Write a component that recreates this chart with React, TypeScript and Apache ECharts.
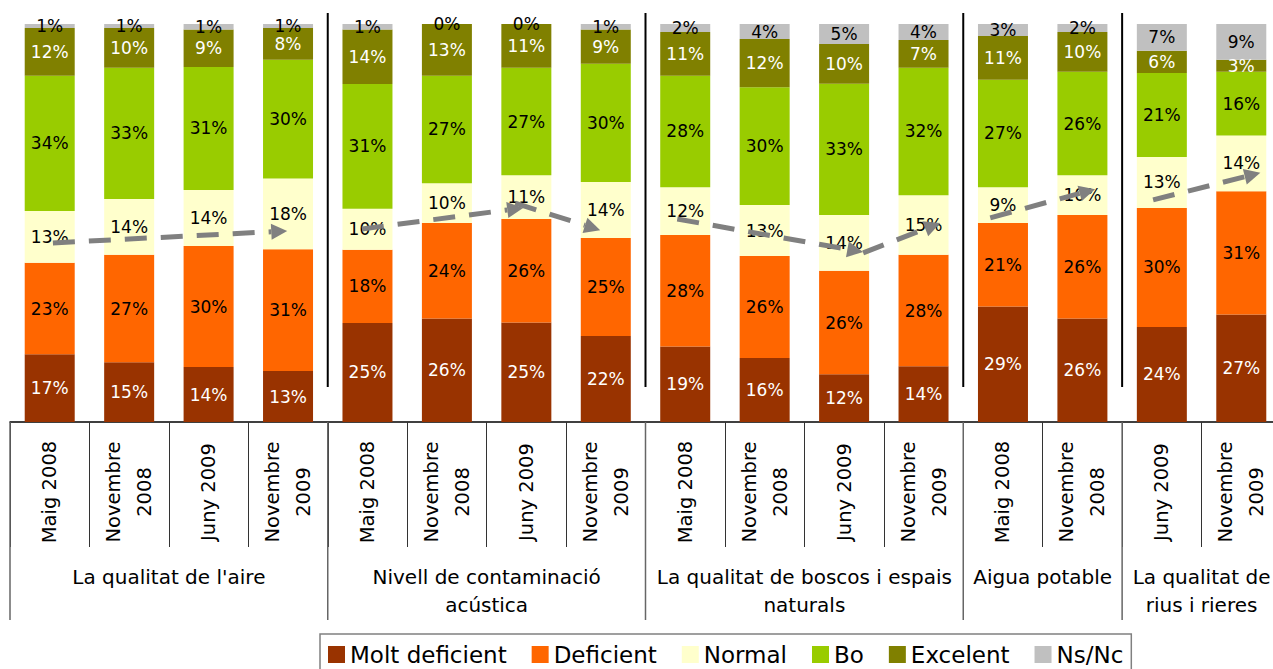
import React, { useEffect, useRef } from "react";
import * as echarts from "echarts";

const FONT = '"DejaVu Sans", sans-serif';

const categories = [
  "Maig 2008", "Novembre\n2008", "Juny 2009", "Novembre\n2009",
  "Maig 2008", "Novembre\n2008", "Juny 2009", "Novembre\n2009",
  "Maig 2008", "Novembre\n2008", "Juny 2009", "Novembre\n2009",
  "Maig 2008", "Novembre\n2008",
  "Juny 2009", "Novembre\n2009",
];

const groupLabels = [
  "La qualitat de l'aire",
  "Nivell de contaminació\nacústica",
  "La qualitat de boscos i espais\nnaturals",
  "Aigua potable",
  "La qualitat de\nrius i rieres",
];
// [first category index, last category index, 0]
const groupRanges = [
  [0, 3, 0],
  [4, 7, 0],
  [8, 11, 0],
  [12, 13, 0],
  [14, 15, 0],
];

const moltDeficient = [17, 15, 13.8, 12.8, 24.9, 26, 25, 21.6, 19, 16.1, 12, 14, 29, 26, 23.9, 27];
const deficient = [23, 27, 30.4, 30.6, 18.4, 24, 26, 24.6, 28, 25.6, 26, 28, 21, 26, 29.9, 31];
const normal = [13, 14, 14.1, 17.8, 10.3, 10, 11, 14.1, 12, 12.8, 14, 15, 9, 10, 12.8, 14];
const bo = [34, 33, 30.9, 29.8, 31.3, 27, 27, 29.7, 28, 29.6, 33, 32, 27, 26, 21.1, 16];
const excelent = [12, 10, 9.4, 8.0, 13.7, 13, 11, 8.6, 11, 12.1, 10, 7, 11, 10, 5.6, 3];
const nsnc = [1, 1, 1.4, 1.0, 1.4, 0, 0, 1.4, 2, 3.8, 5, 4, 3, 2, 6.7, 9];

// trend arrows: [fromCategory, fromPercent, toCategory, toPercent]
const trendArrows = [
  [0.04, 45.0, 2.99, 48.0],
  [3.93, 48.5, 5.96, 53.8],
  [5.86, 55.0, 6.93, 48.2],
  [7.9, 51.0, 10.24, 42.7],
  [10.24, 42.5, 11.21, 50.0],
  [11.84, 51.3, 13.16, 58.5],
  [13.89, 55.8, 15.24, 62.6],
];

const seriesDefs = [
  { name: "Molt deficient", data: moltDeficient, color: "#993300", labelColor: "#ffffff" },
  { name: "Deficient", data: deficient, color: "#FF6600", labelColor: "#000000" },
  { name: "Normal", data: normal, color: "#FFFFCC", labelColor: "#000000" },
  { name: "Bo", data: bo, color: "#99CC00", labelColor: "#000000" },
  { name: "Excelent", data: excelent, color: "#808000", labelColor: "#ffffff" },
  { name: "Ns/Nc", data: nsnc, color: "#C0C0C0", labelColor: "#000000" },
];

export default function App() {
  const ref = useRef<HTMLDivElement>(null);

  useEffect(() => {
    if (!ref.current) return;
    const chart = echarts.init(ref.current, null, { renderer: "svg" });

    const barSeries = seriesDefs.map((s) => ({
      name: s.name,
      type: "bar",
      stack: "total",
      barWidth: 50,
      xAxisIndex: 0,
      yAxisIndex: 0,
      data: s.data,
      itemStyle: { color: s.color },
      emphasis: { disabled: true },
      label: {
        show: true,
        position: "inside",
        formatter: (p: any) => Math.round(p.value) + "%",
        color: s.labelColor,
        fontSize: 17,
        fontFamily: FONT,
      },
      z: 2,
    }));

    const groupSeries = {
      type: "custom",
      name: "groups",
      xAxisIndex: 0,
      yAxisIndex: 0,
      clip: false,
      silent: true,
      z: 4,
      encode: { x: [0, 1], y: 2 },
      data: groupRanges,
      renderItem: (params: any, api: any) => {
        const i = params.dataIndex;
        const start = api.value(0);
        const end = api.value(1);
        const band = api.size([1, 0])[0];
        const p0 = api.coord([start, 0]);
        const pTop = api.coord([start, 100]);
        const xl = p0[0] - band / 2;
        const xr = api.coord([end, 0])[0] + band / 2;
        const yBase = p0[1];
        const children: any[] = [];
        if (start > 0) {
          children.push({
            type: "line",
            shape: { x1: xl, y1: pTop[1] - 11, x2: xl, y2: yBase - 35 },
            style: { stroke: "#000", lineWidth: 2 },
          });
        }
        children.push({
          type: "line",
          shape: { x1: xl, y1: yBase, x2: xl, y2: yBase + 198 },
          style: { stroke: "#666", lineWidth: 1.5 },
        });
        if (i === groupRanges.length - 1) {
          children.push({
            type: "line",
            shape: { x1: xr, y1: yBase, x2: xr, y2: yBase + 198 },
            style: { stroke: "#666", lineWidth: 1.5 },
          });
        }
        children.push({
          type: "text",
          x: (xl + xr) / 2,
          y: yBase + 141,
          style: {
            text: groupLabels[i],
            align: "center",
            verticalAlign: "top",
            fontSize: 20,
            lineHeight: 28,
            fontFamily: FONT,
            fill: "#000",
          },
        });
        return { type: "group", children };
      },
    };

    const arrowSeries = {
      type: "custom",
      name: "trend",
      xAxisIndex: 1,
      yAxisIndex: 0,
      clip: false,
      silent: true,
      z: 6,
      encode: { x: [0, 2], y: [1, 3] },
      data: trendArrows,
      renderItem: (params: any, api: any) => {
        const a = api.coord([api.value(0), api.value(1)]);
        const b = api.coord([api.value(2), api.value(3)]);
        const dx = b[0] - a[0];
        const dy = b[1] - a[1];
        const len = Math.hypot(dx, dy) || 1;
        const ux = dx / len;
        const uy = dy / len;
        const headLen = 16;
        const headHalf = 8;
        const bx = b[0] - ux * headLen;
        const by = b[1] - uy * headLen;
        return {
          type: "group",
          children: [
            {
              type: "line",
              shape: { x1: a[0], y1: a[1], x2: bx, y2: by },
              style: { stroke: "#808080", lineWidth: 5, lineDash: [22, 14] },
            },
            {
              type: "polygon",
              shape: {
                points: [
                  [b[0], b[1]],
                  [bx - uy * headHalf, by + ux * headHalf],
                  [bx + uy * headHalf, by - ux * headHalf],
                ],
              },
              style: { fill: "#808080" },
            },
          ],
        };
      },
    };

    chart.setOption({
      animation: false,
      backgroundColor: "#ffffff",
      grid: { left: 10, right: 0, top: 24, bottom: 247, containLabel: false },
      legend: {
        data: seriesDefs.map((s) => s.name),
        left: 320,
        top: 634,
        orient: "horizontal",
        icon: "rect",
        itemWidth: 17,
        itemHeight: 17,
        itemGap: 25,
        padding: [9, 8, 20, 8],
        borderColor: "#808080",
        borderWidth: 1.5,
        selectedMode: false,
        textStyle: { fontSize: 23, fontFamily: FONT, color: "#000" },
      },
      xAxis: [
        {
          type: "category",
          data: categories,
          gridIndex: 0,
          axisLine: { show: true, lineStyle: { color: "#000", width: 1.5 } },
          axisTick: { show: true, length: 125, lineStyle: { color: "#333", width: 1 } },
          axisLabel: {
            interval: 0,
            rotate: 90,
            align: "center",
            verticalAlign: "middle",
            margin: 70,
            fontSize: 19.5,
            lineHeight: 31,
            fontFamily: FONT,
            color: "#000",
          },
          splitLine: { show: false },
        },
        {
          type: "value",
          gridIndex: 0,
          min: -0.5,
          max: 15.5,
          show: false,
        },
      ],
      yAxis: [
        {
          type: "value",
          min: 0,
          max: 100,
          show: false,
        },
      ],
      series: [...barSeries, groupSeries, arrowSeries],
    });

    return () => chart.dispose();
  }, []);

  return (
    <div
      style={{
        position: "fixed",
        left: 0,
        top: 0,
        width: 1273,
        height: 669,
        overflow: "hidden",
        background: "#fff",
      }}
    >
      <div ref={ref} style={{ width: 1281, height: 669 }} />
    </div>
  );
}
